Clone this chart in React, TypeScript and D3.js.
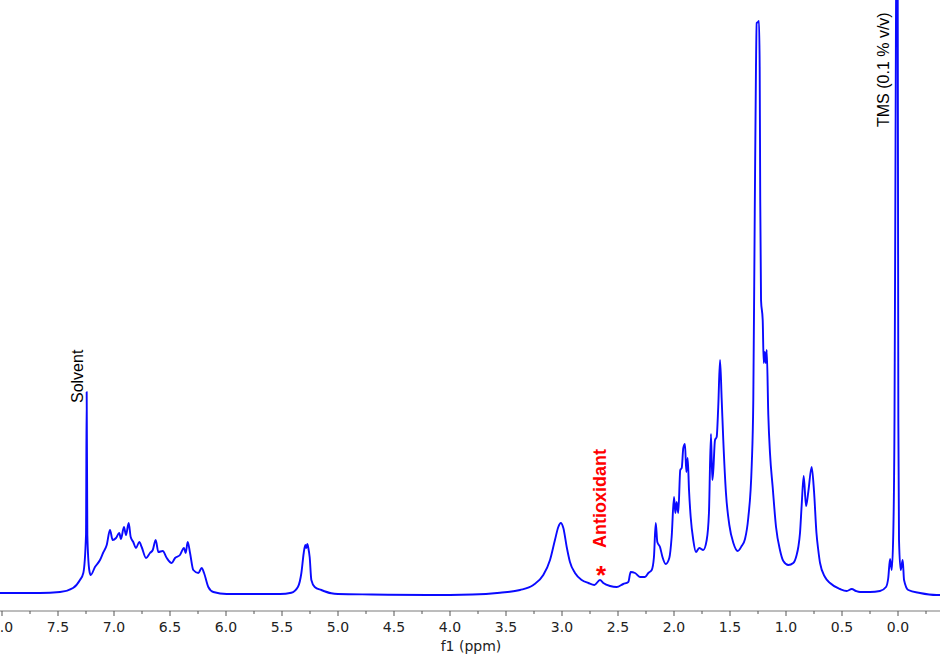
import React from "react";
import * as d3 from "d3";

// chemical shift (ppm) of traced spectrum points
const shiftPpm: number[] = [
  8.05, 7.661, 7.482, 7.366, 7.304, 7.274, 7.25, 7.244, 7.238, 7.221, 7.208,
  7.17, 7.125, 7.098, 7.065, 7.036, 7.012, 6.982, 6.953, 6.938, 6.911, 6.893,
  6.869, 6.851, 6.828, 6.804, 6.774, 6.753, 6.714, 6.679, 6.654, 6.628, 6.604,
  6.565, 6.529, 6.485, 6.455, 6.411, 6.375, 6.36, 6.342, 6.321, 6.292, 6.247,
  6.217, 6.196, 6.158, 6.113, 5.994, 5.696, 5.518, 5.417, 5.357, 5.327, 5.306,
  5.292, 5.283, 5.274, 5.265, 5.253, 5.238, 5.208, 5.149, 5.06, 5.0, 4.7, 4.2,
  3.8, 3.554, 3.375, 3.256, 3.167, 3.107, 3.063, 3.033, 3.011, 2.988, 2.958,
  2.929, 2.884, 2.824, 2.765, 2.711, 2.661, 2.631, 2.571, 2.512, 2.453, 2.408,
  2.387, 2.348, 2.304, 2.259, 2.229, 2.199, 2.179, 2.163, 2.149, 2.125, 2.103,
  2.074, 2.042, 2.021, 2.0, 1.988, 1.976, 1.962, 1.944, 1.931, 1.917, 1.902,
  1.89, 1.878, 1.866, 1.851, 1.828, 1.804, 1.775, 1.739, 1.708, 1.688, 1.67,
  1.658, 1.649, 1.634, 1.619, 1.605, 1.589, 1.574, 1.56, 1.536, 1.506, 1.47,
  1.431, 1.396, 1.366, 1.337, 1.306, 1.292, 1.279, 1.268, 1.262, 1.25, 1.241,
  1.235, 1.23, 1.223, 1.208, 1.199, 1.19, 1.181, 1.172, 1.158, 1.143, 1.119,
  1.089, 1.054, 1.024, 0.979, 0.935, 0.905, 0.89, 0.875, 0.86, 0.842, 0.821,
  0.801, 0.771, 0.75, 0.728, 0.712, 0.696, 0.652, 0.607, 0.518, 0.458, 0.413,
  0.375, 0.339, 0.25, 0.161, 0.107, 0.087, 0.071, 0.056, 0.042, 0.031, 0.022,
  0.012, 0.004, -0.003, -0.009, -0.024, -0.042, -0.054, -0.092, -0.196,
  -0.345, -0.4,
];

// intensity (arbitrary units) at each shift
const intensity: number[] = [
  2, 2, 3, 7, 15, 22, 60, 203, 60, 25, 20,
  28, 35, 42, 50, 65, 55, 57, 62, 56, 68, 60,
  72, 58, 53, 47, 53, 48, 37, 42, 45, 55, 43,
  44, 37, 32, 37, 40, 47, 42, 53, 42, 25, 22,
  27, 22, 8, 3, 1, 1, 1, 2.3, 8.3, 22, 42,
  50, 47, 51, 47, 38, 15, 8, 5, 1.7, 1, 0.5, 0,
  0.5, 2.3, 5, 10, 20, 35, 55, 68, 72, 67, 48,
  33, 22, 15, 12, 10, 15, 12, 9, 8, 11, 13,
  23, 22, 18, 18, 22, 25, 38, 72, 53, 48, 38,
  31, 37, 58, 98, 82, 93, 82, 125, 127, 147, 151,
  123, 137, 105, 78, 55, 43, 47, 45, 55, 82, 161,
  115, 125, 155, 158, 188, 235, 195, 155, 102, 70, 52,
  44, 49, 56, 77, 130, 195, 382, 528, 572, 573, 574,
  528, 395, 295, 275, 232, 243, 232, 245, 180, 142, 108,
  68, 45, 34, 30, 32, 40, 48, 62, 90, 119, 89,
  103, 128, 104, 62, 45, 32, 18, 12, 6, 4, 6,
  4, 3, 3, 4, 8, 17, 36, 25, 62, 180, 450,
  700, 700, 175, 55, 25, 35, 15, 5, 2,
  0, 0,
];

const majorTicks: number[] = [8.0, 7.5, 7.0, 6.5, 6.0, 5.5, 5.0, 4.5, 4.0, 3.5, 3.0, 2.5, 2.0, 1.5, 1.0, 0.5, 0.0];
const minorTicks: number[] = [7.75, 7.25, 6.75, 6.25, 5.75, 5.25, 4.75, 4.25, 3.75, 3.25, 2.75, 2.25, 1.75, 1.25, 0.75, 0.25, -0.25];

const annotationLabels: string[] = ["Solvent", "TMS (0.1 % v/v)", "Antioxidant"];
const annotationPpm: number[] = [7.244, 0.008, 2.661];

const axisTitle = "f1 (ppm)";

const W = 940;
const H = 655;

export default function App() {
  const x = d3.scaleLinear().domain([8.0179, -0.375]).range([0, W]);
  const y = d3.scaleLinear().domain([0, 595]).range([595, 0]);
  const axisY = 611;

  // d3 monotone curves need increasing x; the ppm axis is reversed, so feed pixel order
  const pts: [number, number][] = shiftPpm.map((p, i) => [p, intensity[i]]);
  const line = d3
    .line<[number, number]>()
    .x((d) => x(d[0]))
    .y((d) => y(d[1]))
    .curve(d3.curveMonotoneX);

  const sx = x(annotationPpm[0]);
  const tx = x(annotationPpm[1]);
  const ax = x(annotationPpm[2]);

  return (
    <svg
      width={W}
      height={H}
      style={{ position: "absolute", left: 0, top: 0, display: "block", background: "#fff" }}
    >
      <path d={line(pts) || ""} fill="none" stroke="#0a0aff" strokeWidth={1.9} strokeLinejoin="round" />

      {/* axis */}
      <line x1={0} x2={W} y1={axisY} y2={axisY} stroke="#7a7a7a" strokeWidth={1} />
      {majorTicks.map((t) => (
        <line key={"M" + t} x1={x(t)} x2={x(t)} y1={axisY} y2={axisY + 5} stroke="#555" strokeWidth={1} />
      ))}
      {minorTicks.map((t) => (
        <line key={"m" + t} x1={x(t)} x2={x(t)} y1={axisY} y2={axisY + 3} stroke="#555" strokeWidth={1} />
      ))}
      {majorTicks.map((t) => (
        <text
          key={"L" + t}
          x={x(t)}
          y={632}
          textAnchor="middle"
          fontFamily="DejaVu Sans, Verdana, sans-serif"
          fontSize={14}
          fill="#222"
        >
          {t.toFixed(1)}
        </text>
      ))}
      <text
        x={x(4.0) + 21}
        y={651}
        textAnchor="middle"
        fontFamily="DejaVu Sans, Verdana, sans-serif"
        fontSize={14}
        fill="#222"
      >
        {axisTitle}
      </text>

      {/* annotations */}
      <text
        transform={`translate(${sx - 3.4},403) rotate(-90)`}
        fontFamily="Liberation Sans, Arial, sans-serif"
        fontSize={16}
        fill="#000"
      >
        {annotationLabels[0]}
      </text>
      <text
        transform={`translate(${tx - 8.5},127) rotate(-90)`}
        fontFamily="Liberation Sans, Arial, sans-serif"
        fontSize={16}
        fill="#000"
      >
        {annotationLabels[1]}
      </text>
      <text
        transform={`translate(${ax + 6},548) rotate(-90)`}
        fontFamily="Liberation Sans, Arial, sans-serif"
        fontSize={18}
        fontWeight="bold"
        fill="#ff0000"
      >
        {annotationLabels[2]}
      </text>
      <text
        x={ax + 1}
        y={584}
        textAnchor="middle"
        fontFamily="Liberation Sans, Arial, sans-serif"
        fontSize={26}
        fontWeight="bold"
        fill="#ff0000"
      >
        *
      </text>
    </svg>
  );
}
